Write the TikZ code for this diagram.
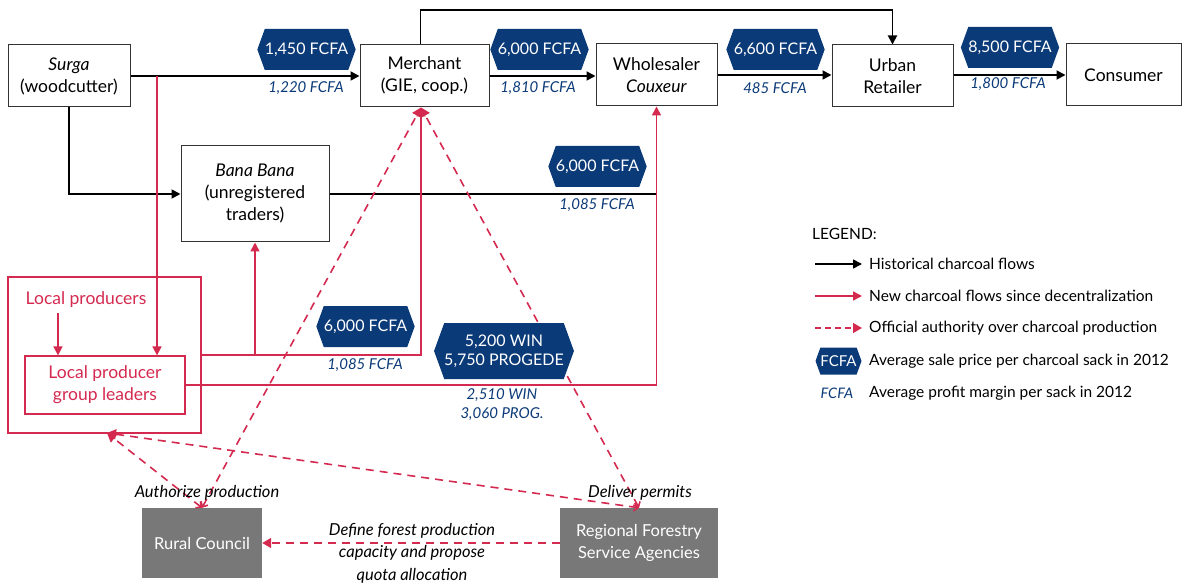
\documentclass[tikz,border=0pt]{standalone}
\usepackage{fontspec}
\setmainfont{Lato}
\usetikzlibrary{arrows.meta,shapes.symbols,calc}
\definecolor{navy}{HTML}{0B3A78}
\definecolor{crim}{HTML}{D42A50}
\definecolor{gboxc}{HTML}{787878}
\begin{document}
\begin{tikzpicture}[x=1pt,y=-1pt,
  box/.style={draw=black!80, line width=1pt, fill=white, align=center, inner sep=0pt, font=\fontsize{17.5}{22}\selectfont},
  gbox/.style={fill=gboxc, text=white, align=center, inner sep=0pt, minimum height=70, font=\fontsize{16.5}{22}\selectfont},
  badge/.style={signal, signal to=east and west, signal pointer angle=140, fill=navy, text=white, font=\fontsize{16}{19}\selectfont, inner sep=0pt, align=center},
  profit/.style={text=navy, font=\fontsize{15}{19}\selectfont\itshape, align=center, inner sep=0pt},
  hist/.style={draw=black, line width=1.8pt, -{Triangle[length=9pt,width=9pt]}},
  histline/.style={draw=black, line width=1.8pt},
  newf/.style={draw=crim, line width=1.6pt, -{Triangle[length=9pt,width=9pt]}},
  auth/.style={draw=crim, line width=1.6pt, dash pattern=on 8pt off 6pt, {Straight Barb[length=4pt,width=8pt]}-{Triangle[length=9pt,width=10pt]}},
  authone/.style={draw=crim, line width=1.6pt, dash pattern=on 8pt off 6pt, -{Triangle[length=9pt,width=10pt]}},
  lbl/.style={font=\fontsize{16.5}{20}\selectfont\itshape, align=center, inner sep=0pt},
  legt/.style={anchor=west, font=\fontsize{15.5}{18}\selectfont, inner sep=0pt}
]
\useasboundingbox (0,0) rectangle (1183,585);

% main boxes
\node[box, minimum width=122, minimum height=62] (surga) at (69,76) {\textit{Surga}\\(woodcutter)};
\node[box, minimum width=129, minimum height=62] (merchant) at (424.5,76) {Merchant\\(GIE, coop.)};
\node[box, minimum width=121, minimum height=62] (whole) at (656.5,75) {Wholesaler\\\textit{Couxeur}};
\node[box, minimum width=121, minimum height=62] (urban) at (892.5,76) {Urban\\Retailer};
\node[box, minimum width=115, minimum height=62] (cons) at (1123.5,75) {Consumer};
\node[box, minimum width=148, minimum height=96] (bana) at (255,194) {\textit{Bana Bana}\\(unregistered\\traders)};

% local producers
\node[draw=crim, line width=1.2pt, minimum width=193, minimum height=156, inner sep=0pt] (outer) at (104.5,355) {};
\node[text=crim, font=\fontsize{17.5}{22}\selectfont, inner sep=0pt] (lpt) at (86,300) {Local producers};
\node[draw=crim, line width=1.2pt, text=crim, minimum width=160, minimum height=58, inner sep=0pt, align=center, font=\fontsize{17.5}{22}\selectfont] (inner) at (105,385) {Local producer\\group leaders};

% authority boxes
\node[gbox, minimum width=120] (rural) at (202,543) {Rural Council};
\node[gbox, minimum width=158] (regional) at (639,543) {Regional Forestry\\Service Agencies};

% coordinates
\coordinate (top) at (0,10);
\coordinate (sj) at (157,76);
\coordinate (ms) at ([xshift=-3.5pt]merchant.south);
\coordinate (r1) at (0,355);
\coordinate (x58) at (58,0);
\coordinate (cn) at (107,433);

% historical flows
\draw[hist] (surga.east) -- (merchant.west);
\draw[hist] (merchant.east) -- (merchant.east -| whole.west);
\draw[hist] (whole.east) -- (whole.east -| urban.west);
\draw[hist] (urban.east |- cons.west) -- (cons.west);
\draw[hist] ([xshift=-4pt]merchant.north) |- (top -| urban.north) -- (urban.north);
\draw[hist] (surga.south) |- (bana.west);
\draw[histline] (bana.east) -- (bana.east -| whole.south);

% new flows
\draw[newf] (sj) -- (sj |- inner.north);
\draw[newf] (lpt.south -| x58) ++(0,5) -- (inner.north -| x58);
\draw[newf] (outer.east |- r1) -| (ms);
\draw[newf] (bana.south |- r1) -- (bana.south);
\draw[newf] (inner.east) -| (whole.south);

% authority
\draw[auth] (rural.north) -- (ms);
\draw[auth] (rural.north) -- (cn);
\draw[auth] (regional.north) -- (ms);
\draw[auth] (regional.north) -- (cn);
\draw[authone] (regional.west) -- (rural.east);

\node[lbl] (la) at (207,493) {Authorize production};
\node[lbl] (ld) at (640,493) {Deliver permits};
\node[lbl, font=\fontsize{16.5}{22.5}\selectfont\itshape] (lq) at (412,553) {Define forest production\\capacity and propose\\quota allocation};

% badges
\node[badge, minimum width=93, minimum height=41] (b1) at (306.5,49.5) {1,450 FCFA};
\node[profit] (p1) at (306,88) {1,220 FCFA};
\node[badge, minimum width=95, minimum height=41] (b2) at (539.5,49.5) {6,000 FCFA};
\node[profit] (p2) at (538,88) {1,810 FCFA};
\node[badge, minimum width=95, minimum height=41] (b3) at (775.5,49.5) {6,600 FCFA};
\node[profit] (p3) at (775,88) {485 FCFA};
\node[badge, minimum width=94, minimum height=41] (b4) at (1010,47.5) {8,500 FCFA};
\node[profit] (p4) at (1008,84) {1,800 FCFA};
\node[badge, minimum width=95, minimum height=41] (b5) at (597.5,166.5) {6,000 FCFA};
\node[profit] (p5) at (597,205) {1,085 FCFA};
\node[badge, minimum width=95, minimum height=41] (b6) at (365.5,326.5) {6,000 FCFA};
\node[profit] (p6) at (365,365) {1,085 FCFA};
\node[badge, minimum width=134, minimum height=56] (b7) at (504,351) {5,200 WIN\\5,750 PROGEDE};
\node[profit] (p7) at (502,405) {2,510 WIN\\3,060 PROG.};

% legend
\node[legt] (leg) at (812,234) {LEGEND:};
\coordinate (l1a) at (815,264); \coordinate (l1b) at (862,264);
\coordinate (l2a) at (815,296); \coordinate (l2b) at (862,296);
\coordinate (l3a) at (815,328); \coordinate (l3b) at (862,328);
\draw[hist, line width=1.5pt] (l1a) -- (l1b);
\draw[newf] (l2a) -- (l2b);
\draw[authone, dash pattern=on 6pt off 4pt] (l3a) -- (l3b);
\node[legt] (t1) at (869,264) {Historical charcoal flows};
\node[legt] (t2) at (869,296) {New charcoal flows since decentralization};
\node[legt] (t3) at (869,328) {Official authority over charcoal production};
\node[badge, minimum width=46, minimum height=27, font=\fontsize{15}{16}\selectfont] (lb) at (838.5,361) {FCFA};
\node[legt] (t4) at (869,361) {Average sale price per charcoal sack in 2012};
\node[profit, font=\fontsize{14.5}{16}\selectfont\itshape] (lp) at (837,393) {FCFA};
\node[legt] (t5) at (869,393) {Average profit margin per sack in 2012};
\end{tikzpicture}
\end{document}
